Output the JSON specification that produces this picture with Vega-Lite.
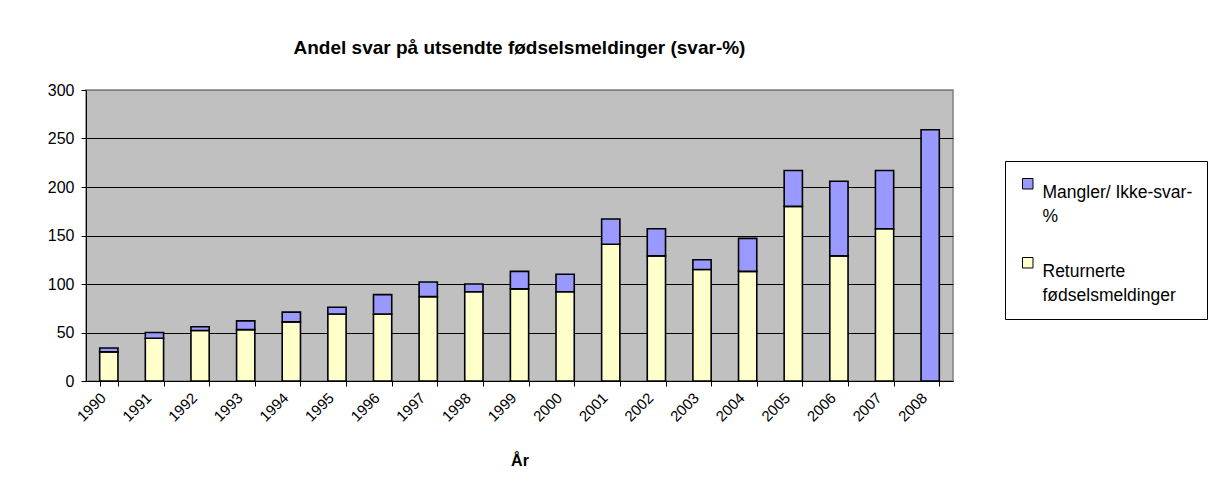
{
  "$schema": "https://vega.github.io/schema/vega-lite/v6.json",
  "autosize": {"type": "none"},
  "width": 867,
  "height": 291,
  "padding": {"left": 86, "top": 90, "right": 276, "bottom": 111},
  "background": "white",
  "title": {
    "text": "Andel svar på utsendte fødselsmeldinger (svar-%)",
    "font": "Liberation Sans",
    "fontSize": 19,
    "fontWeight": "bold",
    "color": "black",
    "anchor": "middle",
    "offset": 24
  },
  "data": {
    "values": [
      {"year": "1990", "type": "Returnerte fødselsmeldinger", "value": 30},
      {"year": "1990", "type": "Mangler/ Ikke-svar-%", "value": 4},
      {"year": "1991", "type": "Returnerte fødselsmeldinger", "value": 44},
      {"year": "1991", "type": "Mangler/ Ikke-svar-%", "value": 6},
      {"year": "1992", "type": "Returnerte fødselsmeldinger", "value": 52},
      {"year": "1992", "type": "Mangler/ Ikke-svar-%", "value": 4},
      {"year": "1993", "type": "Returnerte fødselsmeldinger", "value": 53},
      {"year": "1993", "type": "Mangler/ Ikke-svar-%", "value": 9},
      {"year": "1994", "type": "Returnerte fødselsmeldinger", "value": 61},
      {"year": "1994", "type": "Mangler/ Ikke-svar-%", "value": 10},
      {"year": "1995", "type": "Returnerte fødselsmeldinger", "value": 69},
      {"year": "1995", "type": "Mangler/ Ikke-svar-%", "value": 7},
      {"year": "1996", "type": "Returnerte fødselsmeldinger", "value": 69},
      {"year": "1996", "type": "Mangler/ Ikke-svar-%", "value": 20},
      {"year": "1997", "type": "Returnerte fødselsmeldinger", "value": 87},
      {"year": "1997", "type": "Mangler/ Ikke-svar-%", "value": 15},
      {"year": "1998", "type": "Returnerte fødselsmeldinger", "value": 92},
      {"year": "1998", "type": "Mangler/ Ikke-svar-%", "value": 8},
      {"year": "1999", "type": "Returnerte fødselsmeldinger", "value": 95},
      {"year": "1999", "type": "Mangler/ Ikke-svar-%", "value": 18},
      {"year": "2000", "type": "Returnerte fødselsmeldinger", "value": 92},
      {"year": "2000", "type": "Mangler/ Ikke-svar-%", "value": 18},
      {"year": "2001", "type": "Returnerte fødselsmeldinger", "value": 141},
      {"year": "2001", "type": "Mangler/ Ikke-svar-%", "value": 26},
      {"year": "2002", "type": "Returnerte fødselsmeldinger", "value": 129},
      {"year": "2002", "type": "Mangler/ Ikke-svar-%", "value": 28},
      {"year": "2003", "type": "Returnerte fødselsmeldinger", "value": 115},
      {"year": "2003", "type": "Mangler/ Ikke-svar-%", "value": 10},
      {"year": "2004", "type": "Returnerte fødselsmeldinger", "value": 113},
      {"year": "2004", "type": "Mangler/ Ikke-svar-%", "value": 34},
      {"year": "2005", "type": "Returnerte fødselsmeldinger", "value": 180},
      {"year": "2005", "type": "Mangler/ Ikke-svar-%", "value": 37},
      {"year": "2006", "type": "Returnerte fødselsmeldinger", "value": 129},
      {"year": "2006", "type": "Mangler/ Ikke-svar-%", "value": 77},
      {"year": "2007", "type": "Returnerte fødselsmeldinger", "value": 157},
      {"year": "2007", "type": "Mangler/ Ikke-svar-%", "value": 60},
      {"year": "2008", "type": "Returnerte fødselsmeldinger", "value": 0},
      {"year": "2008", "type": "Mangler/ Ikke-svar-%", "value": 259}
    ]
  },
  "mark": {"type": "bar", "stroke": "black", "strokeWidth": 1.6},
  "encoding": {
    "x": {
      "field": "year",
      "type": "ordinal",
      "scale": {"paddingInner": 0.6, "paddingOuter": 0.3},
      "axis": {
        "title": "År",
        "titleFont": "Liberation Sans",
        "titleFontSize": 16,
        "titleFontWeight": "bold",
        "titleColor": "black",
        "titlePadding": 28,
        "labelAngle": -45,
        "labelFont": "Liberation Sans",
        "labelFontSize": 15,
        "labelColor": "black",
        "labelPadding": 4,
        "labelOffset": -11,
        "tickBand": "extent",
        "tickColor": "black",
        "tickSize": 5,
        "domainColor": "black",
        "grid": false
      }
    },
    "y": {
      "field": "value",
      "type": "quantitative",
      "stack": "zero",
      "scale": {"domain": [0, 300], "nice": false},
      "axis": {
        "title": null,
        "values": [0, 50, 100, 150, 200, 250, 300],
        "labelFont": "Liberation Sans",
        "labelFontSize": 16,
        "labelColor": "black",
        "labelPadding": 7,
        "tickColor": "black",
        "tickSize": 5,
        "domainColor": "black",
        "grid": true,
        "gridColor": {"condition": {"test": "datum.value == 300", "value": "#808080"}, "value": "black"},
        "gridOpacity": 1,
        "gridWidth": 1
      }
    },
    "color": {
      "field": "type",
      "type": "nominal",
      "scale": {
        "domain": ["Mangler/ Ikke-svar-%", "Returnerte fødselsmeldinger"],
        "range": ["#9999FF", "#FFFFCC"]
      },
      "legend": {
        "title": null,
        "orient": "none",
        "legendX": 919,
        "legendY": 71,
        "labelFont": "Liberation Sans",
        "labelFontSize": 17.5,
        "labelColor": "black",
        "labelExpr": "datum.label == 'Mangler/ Ikke-svar-%' ? ['Mangler/ Ikke-svar-', '%'] : ['Returnerte', 'fødselsmeldinger']",
        "labelBaseline": "top",
        "labelOffset": 6,
        "symbolType": "square",
        "symbolSize": 110,
        "symbolStrokeColor": "black",
        "symbolStrokeWidth": 1,
        "symbolOffset": 0,
        "rowPadding": 28,
        "padding": 14,
        "strokeColor": "black",
        "fillColor": "white",
        "encode": {"labels": {"update": {"lineHeight": {"value": 24}}}}
      }
    },
    "order": {"field": "type", "sort": "descending"}
  },
  "config": {
    "view": {"fill": "#C0C0C0", "stroke": "#808080", "strokeWidth": 1.5}
  }
}
